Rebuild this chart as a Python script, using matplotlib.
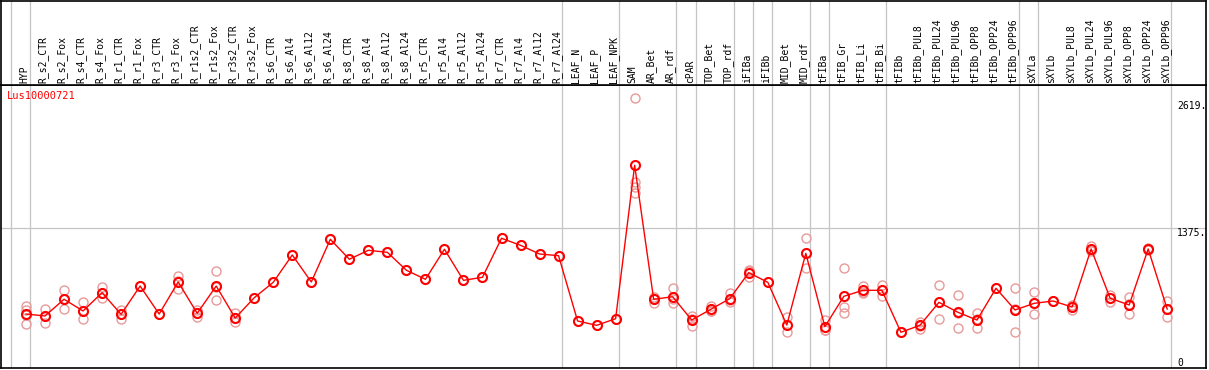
import numpy as np
import matplotlib
matplotlib.use("Agg")
from matplotlib import pyplot as plt

W, H = 1209, 370

GENE = "Lus10000721"

categories = [
    "HYP", "R_s2_CTR", "R_s2_Fox", "R_s4_CTR", "R_s4_Fox", "R_r1_CTR", "R_r1_Fox",
    "R_r3_CTR", "R_r3_Fox", "R_r1s2_CTR", "R_r1s2_Fox", "R_r3s2_CTR", "R_r3s2_Fox",
    "R_s6_CTR", "R_s6_Al4", "R_s6_Al12", "R_s6_Al24", "R_s8_CTR", "R_s8_Al4",
    "R_s8_Al12", "R_s8_Al24", "R_r5_CTR", "R_r5_Al4", "R_r5_Al12", "R_r5_Al24",
    "R_r7_CTR", "R_r7_Al4", "R_r7_Al12", "R_r7_Al24", "LEAF_N", "LEAF_P", "LEAF_NPK",
    "SAM", "AR_Bet", "AR_rdf", "cPAR", "TOP_Bet", "TOP_rdf", "iFIBa", "iFIBb",
    "MID_Bet", "MID_rdf", "tFIBa", "tFIB_Gr", "tFIB_Li", "tFIB_Bi", "tFIBb",
    "tFIBb_PUL8", "tFIBb_PUL24", "tFIBb_PUL96", "tFIBb_OPP8", "tFIBb_OPP24",
    "tFIBb_OPP96", "sXYLa", "sXYLb", "sXYLb_PUL8", "sXYLb_PUL24", "sXYLb_PUL96",
    "sXYLb_OPP8", "sXYLb_OPP24", "sXYLb_OPP96",
]

means = [
    530, 511, 675, 560, 740, 527, 805, 530, 845, 537, 805, 491, 690,
    842, 1110, 845, 1264, 1068, 1156, 1136, 960, 871, 1166, 861, 891,
    1274, 1205, 1120, 1103, 462, 419, 484, 1991, 675, 700, 471, 576,
    681, 936, 842, 422, 1126, 406, 704, 763, 763, 351, 419, 645, 547,
    471, 783, 570, 635, 658, 599, 1169, 685, 619, 1169, 579,
]

reps = [
    [609, 570, 521, 432], [576, 511, 439], [763, 582, 680], [645, 478, 560],
    [798, 685, 740], [570, 478, 530], [805], [530], [906, 776, 850],
    [570, 504, 537], [950, 668, 800], [540, 452, 490], [690],
    [842], [1110], [845], [1264], [1068], [1156], [1136], [960], [871],
    [1166], [861], [891], [1274], [1205], [1120], [1103], [462], [419], [484],
    [2649, 1830, 1781, 1716], [694, 641, 675], [789, 635, 680], [511, 415, 480],
    [609, 560, 560], [734, 645, 665], [962, 897, 950], [842],
    [498, 351, 420], [1274, 979, 1126], [471, 373, 375], [979, 596, 537],
    [808, 734, 750], [815, 710, 765], [351], [455, 386, 415], [812, 478, 645],
    [714, 390, 540], [537, 390, 485], [783], [783, 351, 575], [743, 527, 635],
    [658], [619, 570, 605], [1198, 1159, 1150], [717, 648, 690],
    [700, 527, 630], [1180, 1160], [658, 498, 580],
]

# group separators sit just right of these category indices
sep_after = [-1, 0, 28, 31, 34, 35, 37, 38, 39, 41, 42, 45, 52, 53, 60]

ytick_vals = [2619, 1375, 0]
ytick_labels = ["2619.", "1375.", "0"]

MONO = "DejaVu Sans Mono"
GRAY = "#c4c4c4"

fig = plt.figure(figsize=(W / 100, H / 100), dpi=100)

px0, px1 = 1, 1206
ytop, ybot = 85, 368
ax = fig.add_axes([px0 / W, (H - ybot) / H, (px1 - px0) / W, (ybot - ytop) / H])
hd = fig.add_axes([px0 / W, (H - ytop) / H, (px1 - px0) / W, (ytop - 0.5) / H])

step = 19.02
xlim = ((px0 - 26) / step, (px1 - 26) / step)
ylim = (0, (ybot - ytop) * 1375 / (ybot - 228))

for a in (ax, hd):
    a.set_xlim(*xlim)
    a.set_xticks([])
    a.set_yticks([])
    for s in a.spines.values():
        s.set_color("black")
        s.set_linewidth(1.2)
    for i in sep_after:
        a.axvline(i + 0.2, color=GRAY, lw=0.9, zorder=0)

ax.set_ylim(*ylim)
hd.set_ylim(0, 1)

ax.axhline(1375, color=GRAY, lw=0.9, zorder=0)

x = np.arange(len(categories))

for i, vals in enumerate(reps):
    ax.plot([i] * len(vals), vals, "o", mfc="none", mec="#e89a9a",
            ms=6.5, mew=1, zorder=2)

ax.plot(x, means, "-", color="red", lw=1, zorder=3)
ax.plot(x, means, "o", mfc="none", mec="red", ms=6.5, mew=1.5, zorder=4)

for i, lab in enumerate(categories):
    hd.text(i - 0.1, 0.025, lab, rotation=90, ha="center", va="bottom",
            family=MONO, fontsize=7, color="black")

xlab = (1177 - 26) / step
for v, lab in zip(ytick_vals, ytick_labels):
    ax.text(xlab, v, lab, ha="left", va="top" if v > 0 else "bottom",
            family=MONO, fontsize=7, color="black")

ax.text((7 - px0) / (px1 - px0), (ybot - 91) / (ybot - ytop), GENE,
        transform=ax.transAxes, ha="left", va="top", family=MONO,
        fontsize=7.5, color="red")

fig.savefig("out.png", dpi=100)
